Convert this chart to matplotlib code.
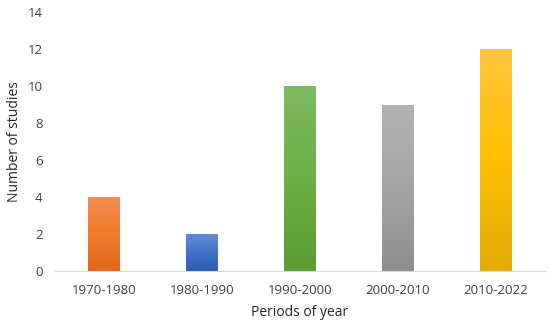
import numpy as np
import matplotlib.pyplot as plt
from matplotlib.colors import LinearSegmentedColormap

periods = ['1970-1980', '1980-1990', '1990-2000', '2000-2010', '2010-2022']
studies = [4, 2, 10, 9, 12]
# top, middle, bottom colours of each bar's gradient
bar_colors = [
    ['#F18D53', '#EF7B2A', '#E2681C'],
    ['#5F8BD8', '#4472C4', '#2F5BB8'],
    ['#80B863', '#6DAE45', '#5B9C32'],
    ['#B3B3B3', '#A5A5A5', '#8E8E8E'],
    ['#FFC53D', '#FFC000', '#E2AC06'],
]

plt.rcParams['font.family'] = ['Open Sans', 'DejaVu Sans']

fig = plt.figure(figsize=(5.5, 3.27), dpi=100)
ax = fig.add_axes([0.1, 0.171, 0.891, 0.792])

x = np.arange(len(periods))
bars = ax.bar(x, studies, width=0.32, color='none', edgecolor='none')
grad = np.linspace(0, 1, 256).reshape(-1, 1)
for bar, cols in zip(bars, bar_colors):
    cmap = LinearSegmentedColormap.from_list('g', cols[::-1])
    x0, y0 = bar.get_x(), bar.get_y()
    im = ax.imshow(grad, cmap=cmap, origin='lower', aspect='auto',
                   extent=[x0, x0 + bar.get_width(), y0, y0 + bar.get_height()], zorder=2)
    im.set_clip_path(bar)

ax.set_xlim(-0.5, 4.5)
ax.set_ylim(0, 14)
ax.set_yticks(range(0, 15, 2))
ax.set_xticks(x)
ax.set_xticklabels(periods)
ax.tick_params(length=0, labelsize=9.5, colors='#404040')
ax.tick_params(axis='y', pad=9)
ax.tick_params(axis='x', pad=9)
for s in ['top', 'right', 'left']:
    ax.spines[s].set_visible(False)
ax.spines['bottom'].set_color('#D9D9D9')

ax.set_xlabel('Periods of year', fontsize=10, color='#262626', labelpad=6)
ax.set_ylabel('Number of studies', fontsize=10, color='#262626')
ax.yaxis.set_label_coords(-0.068, 0.5)

fig.savefig('out.png', dpi=100)
